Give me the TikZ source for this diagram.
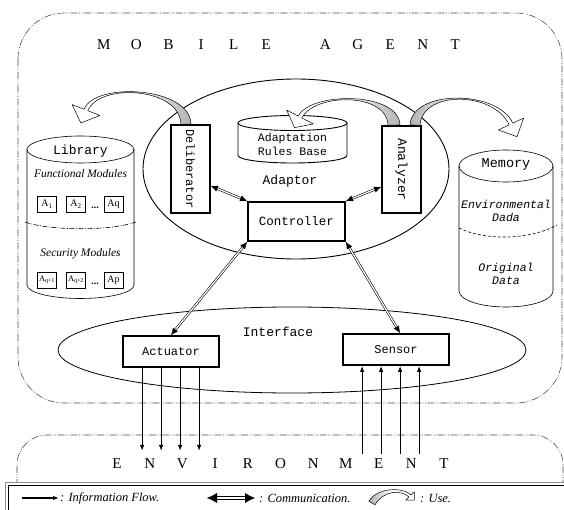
\documentclass[tikz,border=0pt]{standalone}
\usepackage{fontspec}
\setmainfont{Liberation Serif}
\newfontfamily\monof{Liberation Mono}
\usetikzlibrary{calc,arrows.meta}
\newcommand\mfz[1]{\monof\fontsize{#1}{#1}\selectfont}
\newcommand\lbx[2]{\makebox[#1]{#2}}
% hollow curved "use" arrow: P0,P1,P2,P3 (bezier centreline), half-width start, half-width end, head half-width, head length, fill options
\newcommand\usearrowx[9]{%
  \path[draw=black, line width=0.5pt, line join=round, #9]
   ($#1!#5pt!90:#2$) .. controls ($#2!#5pt!-90:#1$) and ($#3!#6pt!90:#4$) .. ($#4!#6pt!-90:#3$)
   -- ($#4!#7pt!-90:#3$) -- ($#4!-#8pt!#3$) -- ($#4!#7pt!90:#3$) -- ($#4!#6pt!90:#3$)
   .. controls ($#3!#6pt!-90:#4$) and ($#2!#5pt!90:#1$) .. ($#1!#5pt!-90:#2$) -- cycle;}
% communication double arrow
\newcommand\commx[5]{%
  \draw[double=white, double distance=#3, line width=#4, shorten <=5pt, shorten >=5pt] #1 -- #2;
  \draw[white, line width=0.3pt, {Latex[black,#5]}-{Latex[black,#5]}] #1 -- #2;}
\begin{document}
\begin{tikzpicture}[x=1pt,y=1pt,
  border/.style={draw=black!70, line width=0.6pt, dash pattern=on 7pt off 1.5pt on 0.8pt off 1.5pt on 0.8pt off 1.5pt},
  thickbox/.style={draw, fill=white, line width=1.8pt, inner sep=0pt},
  flow/.style={line width=1.1pt, -{Latex[length=6pt,width=4.5pt]}},
  modbox/.style={draw, fill=white, line width=0.5pt, minimum width=19pt, minimum height=16pt, inner sep=0pt, font=\fontsize{10}{12}\selectfont},
  caps/.style={inner sep=0pt, font=\fontsize{15}{17}\selectfont},
  itl/.style={inner sep=0pt, font=\itshape\fontsize{11.5}{13}\selectfont},
  legtxt/.style={inner sep=0pt, anchor=west, font=\itshape\fontsize{12.5}{14}\selectfont},
  dots/.style={inner sep=0pt, font=\bfseries\fontsize{10}{12}\selectfont}]
\useasboundingbox (0,0) rectangle (564,-510);
\clip (0,0) rectangle (564,-510);
\fill[white] (0,0) rectangle (564,-510);

% ---- Mobile agent frame
\draw[border, rounded corners=46] (18,-13) rectangle (562,-403);
\node[caps] (ma) at (279.5,-45) {\lbx{32.5pt}{M}\lbx{32.5pt}{O}\lbx{32.5pt}{B}\lbx{32.5pt}{I}\lbx{32.5pt}{L}\lbx{32.5pt}{E}\hspace{26.5pt}\lbx{32.5pt}{A}\lbx{32.5pt}{G}\lbx{32.5pt}{E}\lbx{32.5pt}{N}\lbx{32.5pt}{T}};

% ---- Environment frame
\draw[border, rounded corners=30] (17,-486) -- (17,-435) -- (563,-435) -- (563,-486);
\node[caps] (envt) at (280.5,-464) {\lbx{32.7pt}{E}\lbx{32.7pt}{N}\lbx{32.7pt}{V}\lbx{32.7pt}{I}\lbx{32.7pt}{R}\lbx{32.7pt}{O}\lbx{32.7pt}{N}\lbx{32.7pt}{M}\lbx{32.7pt}{E}\lbx{32.7pt}{N}\lbx{32.7pt}{T}};

% ---- Adaptor ellipse
\draw[line width=0.9pt] (296,-169) ellipse[x radius=153, y radius=90];
\node[font=\mfz{13}, inner sep=0pt] (adaptor) at (290,-181) {Adaptor};

% ---- Adaptation rules base
\draw[line width=0.9pt, fill=white] (238,-123) -- (238,-155.5) arc[start angle=180, end angle=360, x radius=54.5, y radius=7.5] -- (347,-123);
\draw[line width=0.9pt, fill=white] (292.5,-123) ellipse[x radius=54.5, y radius=7.5];
\node[font=\mfz{11.5}, align=center, inner sep=0pt] (arb) at (292.5,-144.5) {Adaptation\\[2pt]Rules Base};

% ---- Library
\draw[line width=0.6pt] (27,-149.5) -- (27,-285) arc[start angle=180, end angle=360, x radius=53.5, y radius=13.5] -- (134,-149.5);
\draw[line width=0.6pt] (80.5,-149.5) ellipse[x radius=53.5, y radius=13.5];
\node[font=\mfz{13}, inner sep=0pt] (lib) at (80.5,-151) {Library};
\node[itl] (fm) at (80.5,-174) {Functional Modules};
\node[modbox] (a1) at (47,-204) {A\textsubscript{1}};
\node[modbox] (a2) at (76,-204) {A\textsubscript{2}};
\node[dots] (d1) at (95,-208) {...};
\node[modbox] (aq) at (113.5,-204) {Aq};
\draw[line width=0.6pt, dash pattern=on 5pt off 1.5pt on 1pt off 1.5pt] (25,-222) .. controls (50,-231) and (111,-231) .. (136,-222);
\node[itl] (sm) at (80.5,-254) {Security Modules};
\node[modbox, font=\fontsize{8.5}{10}\selectfont] (aq1) at (47,-280) {A\textsubscript{q+1}};
\node[modbox, font=\fontsize{8.5}{10}\selectfont] (aq2) at (76,-280) {A\textsubscript{q+2}};
\node[dots] (d2) at (95,-284) {...};
\node[modbox] (ap) at (113.5,-280) {Ap};

% ---- Memory
\draw[line width=0.6pt] (459,-166) -- (459,-291) arc[start angle=180, end angle=360, x radius=47, y radius=16] -- (553,-166);
\draw[line width=0.6pt] (506,-166) ellipse[x radius=47, y radius=16];
\node[font=\mfz{13.5}, inner sep=0pt] (mem) at (506,-164) {Memory};
\node[font=\monof\itshape\fontsize{11.5}{13}\selectfont, align=center, inner sep=0pt] (envd) at (506,-211) {Environmental\\Dada};
\draw[line width=0.6pt, dash pattern=on 3pt off 2pt] (459,-228) .. controls (485,-241) and (530,-240) .. (557,-225);
\node[font=\monof\itshape\fontsize{11.5}{13}\selectfont, align=center, inner sep=0pt] (orig) at (506,-273.5) {Original\\Data};

% ---- Boxes inside the adaptor
\node[thickbox, minimum width=39pt, minimum height=88pt] (delib) at (190.5,-169) {};
\node[rotate=-90, font=\mfz{12}, inner sep=0pt] (delibt) at (delib.center) {Deliberator};
\node[thickbox, minimum width=39pt, minimum height=87pt] (anal) at (401.5,-169.5) {};
\node[rotate=-90, font=\mfz{13}, inner sep=0pt] (analt) at (anal.center) {Analyzer};
\node[thickbox, minimum width=97pt, minimum height=39pt, font=\mfz{12.5}] (ctrl) at (296.5,-221.5) {Controller};

% ---- Interface
\draw[line width=0.8pt] (292,-350) ellipse[x radius=234, y radius=43];
\node[font=\mfz{13}, inner sep=0pt] (intf) at (278,-332) {Interface};
\node[thickbox, minimum width=96pt, minimum height=31pt, font=\mfz{12}] (act) at (171,-351.5) {Actuator};
\node[thickbox, minimum width=106pt, minimum height=31pt, font=\mfz{12}] (sens) at (396,-349.5) {Sensor};

% ---- Communication arrows
\commx{($(delib.south east)+(0,28)$)}{(ctrl.north west)}{1.2pt}{0.6pt}{length=7pt,width=6pt}
\commx{($(anal.south west)+(0,27)$)}{(ctrl.north east)}{1.2pt}{0.6pt}{length=7pt,width=6pt}
\commx{(ctrl.south west)}{(act.north)}{1.2pt}{0.6pt}{length=7pt,width=6pt}
\commx{(ctrl.south east)}{($(sens.north)+(4,0)$)}{1.2pt}{0.6pt}{length=7pt,width=6pt}

% ---- Information flow arrows
\foreach \dx in {20,39,58,77} {
  \draw[flow] ([xshift=\dx]act.south west) -- ++(0,-83);
  \draw[flow] ($(sens.south west)+(\dx,-88)$) -- ([xshift=\dx]sens.south west);
}

% ---- Use arrows
\coordinate (u1) at ([xshift=-4.5pt]delib.north);
\coordinate (u2) at ([xshift=-7.5pt]anal.north);
\coordinate (u3) at ([xshift=13.5pt]anal.north);
\usearrowx{(u1)}{(185,-87)}{(97,-82)}{(86,-110)}{5}{2}{15}{14}{left color=white, right color=gray!60, middle color=white}
\usearrowx{(u2)}{(393,-92)}{(313,-92)}{(300,-117)}{6}{2}{15}{12}{left color=white, right color=gray!60, middle color=white}
\usearrowx{(u3)}{(417,-90)}{(495,-90)}{(511,-124)}{5}{2}{14}{14}{left color=gray!60, right color=white, middle color=white}

% ---- Legend
\fill[white] (5,-482) rectangle (600,-540);
\draw[black!45, line width=0.8pt] (5,-482) rectangle (600,-540);
\draw[line width=0.8pt] (8.5,-485.5) rectangle (600,-540);
\coordinate (l1a) at (22,-498);
\coordinate (l1b) at (59,-498);
\draw[flow] (l1a) -- (l1b);
\node[legtxt] (l1t) at (60,-498) {: Information Flow.};
\coordinate (l2a) at (207,-498);
\coordinate (l2b) at (255,-498);
\commx{(l2a)}{(l2b)}{1.8pt}{1pt}{length=10pt,width=10pt}
\node[legtxt] (l2t) at (259,-498) {: Communication.};
\usearrowx{(372,-503)}{(380,-489)}{(402,-488)}{(410,-496)}{3.5}{1.5}{6}{6}{left color=gray!60, right color=white, middle color=white}
\node[legtxt] (l3t) at (420,-498) {: Use.};
\end{tikzpicture}
\end{document}
